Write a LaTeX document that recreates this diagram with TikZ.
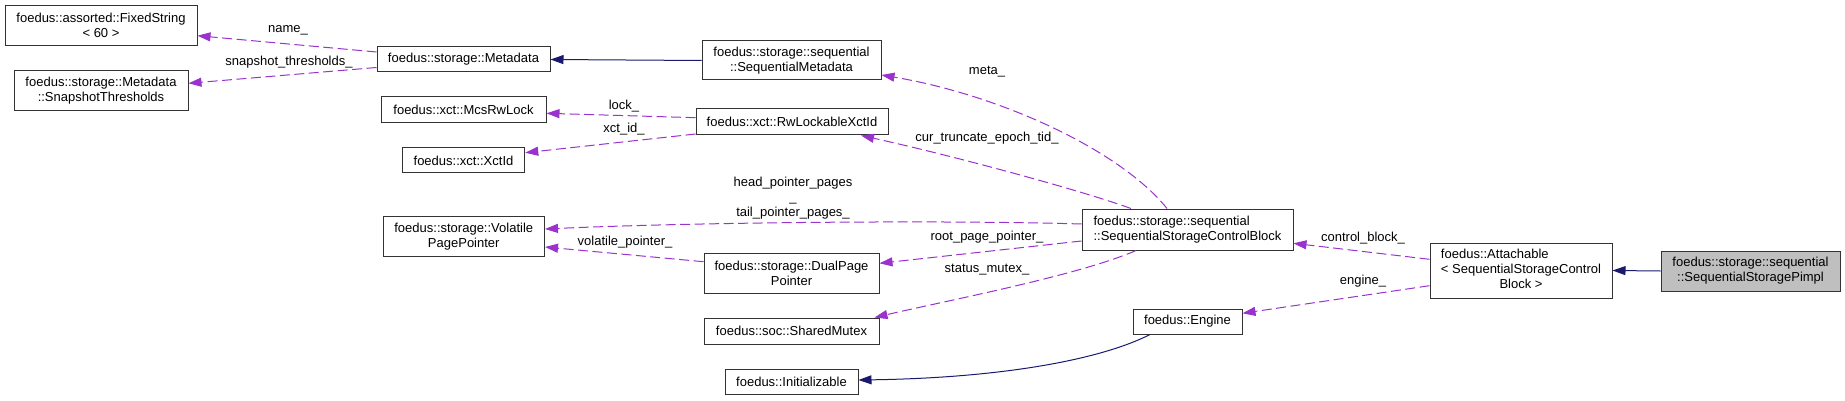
\documentclass[tikz,border=0pt]{standalone}
\usepackage{fontspec}
\setmainfont{Liberation Sans}
\usetikzlibrary{arrows.meta}
\definecolor{edgepurple}{HTML}{9A32CD}
\definecolor{navyedge}{HTML}{191970}
\definecolor{focusgray}{HTML}{BFBFBF}
\begin{document}
\begin{tikzpicture}[x=1pt,y=-1pt,
  box/.style={draw=black!80, line width=1pt, fill=white, inner sep=0pt, align=center, font=\fontsize{13}{15}\selectfont},
  lbl/.style={inner sep=0pt, align=center, font=\fontsize{13}{15}\selectfont},
  member/.style={draw=edgepurple, line width=1pt, dash pattern=on 10pt off 4.5pt, -{Triangle[length=13pt,width=9pt]}},
  inherit/.style={draw=navyedge, line width=1pt, -{Triangle[length=13pt,width=9pt]}},
]
\useasboundingbox (0,0) rectangle (1845,401);

% column 1
\node[box, minimum width=192pt, minimum height=40pt] (fixed) at (101,25.7) {foedus::assorted::FixedString\\< 60 >};
\node[box, minimum width=174pt, minimum height=40pt] (snap) at (101,91) {foedus::storage::Metadata\\::SnapshotThresholds};
% column 2
\node[box, minimum width=173pt, minimum height=25pt] (metadata) at (463.5,59.5) {foedus::storage::Metadata};
\node[box, minimum width=165pt, minimum height=26pt] (mcs) at (463.5,110) {foedus::xct::McsRwLock};
\node[box, minimum width=122.5pt, minimum height=25pt] (xctid) at (463.5,160.5) {foedus::xct::XctId};
\node[box, minimum width=161.5pt, minimum height=40pt] (vpp) at (463.75,236.7) {foedus::storage::Volatile\\PagePointer};
% column 3
\node[box, minimum width=179pt, minimum height=39pt] (seqmeta) at (791.5,60.5) {foedus::storage::sequential\\::SequentialMetadata};
\node[box, minimum width=192pt, minimum height=26pt] (rwlock) at (792,122) {foedus::xct::RwLockableXctId};
\node[box, minimum width=175pt, minimum height=40pt] (dpp) at (791.5,273) {foedus::storage::DualPage\\Pointer};
\node[box, minimum width=175pt, minimum height=26pt] (mutex) at (791.5,331) {foedus::soc::SharedMutex};
\node[box, minimum width=133pt, minimum height=25pt] (init) at (791.5,381.5) {foedus::Initializable};
% column 4
\node[box, align=left, minimum width=211pt, minimum height=41pt] (sscb) at (1187.5,229.5) {foedus::storage::sequential\\::SequentialStorageControlBlock};
\node[box, minimum width=109pt, minimum height=25pt] (engine) at (1187.5,321.5) {foedus::Engine};
% column 5
\node[box, minimum width=182pt, minimum height=55pt] (attach) at (1521,270.5) {\begin{tabular}{@{}l@{}}foedus::Attachable\\< SequentialStorageControl\\\multicolumn{1}{@{}c@{}}{Block >}\end{tabular}};
% column 6
\node[box, fill=focusgray, minimum width=179pt, minimum height=40pt] (pimpl) at (1750.5,271) {foedus::storage::sequential\\::SequentialStoragePimpl};

% edges
\draw[member] ([yshift=7.5pt]metadata.west) -- ([yshift=-10pt]fixed.east);
\draw[member] ([yshift=-8pt]metadata.west) -- ([yshift=7.7pt]snap.east);
\draw[inherit] (seqmeta.west) -- (metadata.east);
\draw[member] ([yshift=4.3pt]rwlock.west) -- ([yshift=-3.3pt]mcs.east);
\draw[member] ([yshift=-12pt]rwlock.west) -- ([yshift=7.8pt]xctid.east);
\draw[member] ([xshift=-20.5pt]sscb.north) .. controls (1120,150) and (1000,95) .. ([yshift=-14.5pt]seqmeta.east);
\draw[member] ([xshift=-56.5pt]sscb.north) .. controls (1080,190) and (950,155) .. ([xshift=69pt]rwlock.south);
\draw[member] ([yshift=5.5pt]sscb.west) .. controls (950,220) and (700,222) .. ([yshift=7.7pt]vpp.east);
\draw[member] ([yshift=-11.5pt]sscb.west) -- ([yshift=9.7pt]dpp.east);
\draw[member] ([yshift=11.3pt]dpp.west) -- ([yshift=-10.3pt]vpp.east);
\draw[member] ([xshift=-51.5pt]sscb.south) .. controls (1080,275) and (950,300) .. ([xshift=-5pt]mutex.north east);
\draw[member] ([yshift=11.2pt]attach.west) -- ([yshift=-13.8pt]sscb.east);
\draw[member] ([yshift=-15.2pt]attach.west) -- ([yshift=8.2pt]engine.east);
\draw[inherit] ([xshift=-37.5pt]engine.south) .. controls (1100,360) and (1000,378) .. ([yshift=1.5pt]init.east);
\draw[inherit] (pimpl.west) -- (attach.east);

% labels
\node[lbl] (lname) at (288,30) {name\_};
\node[lbl] (lsnap) at (289,62) {snapshot\_thresholds\_};
\node[lbl] (llock) at (624,106) {lock\_};
\node[lbl] (lxct) at (624,129) {xct\_id\_};
\node[lbl] (lmeta) at (987,72) {meta\_};
\node[lbl] (lcur) at (987,138) {cur\_truncate\_epoch\_tid\_};
\node[lbl] (lhead) at (793,198) {head\_pointer\_pages\\\_\\tail\_pointer\_pages\_};
\node[lbl] (lvol) at (625,242) {volatile\_pointer\_};
\node[lbl] (lroot) at (987,237) {root\_page\_pointer\_};
\node[lbl] (lstatus) at (987,270) {status\_mutex\_};
\node[lbl] (lcontrol) at (1363,238) {control\_block\_};
\node[lbl] (lengine) at (1363,281) {engine\_};
\end{tikzpicture}
\end{document}
